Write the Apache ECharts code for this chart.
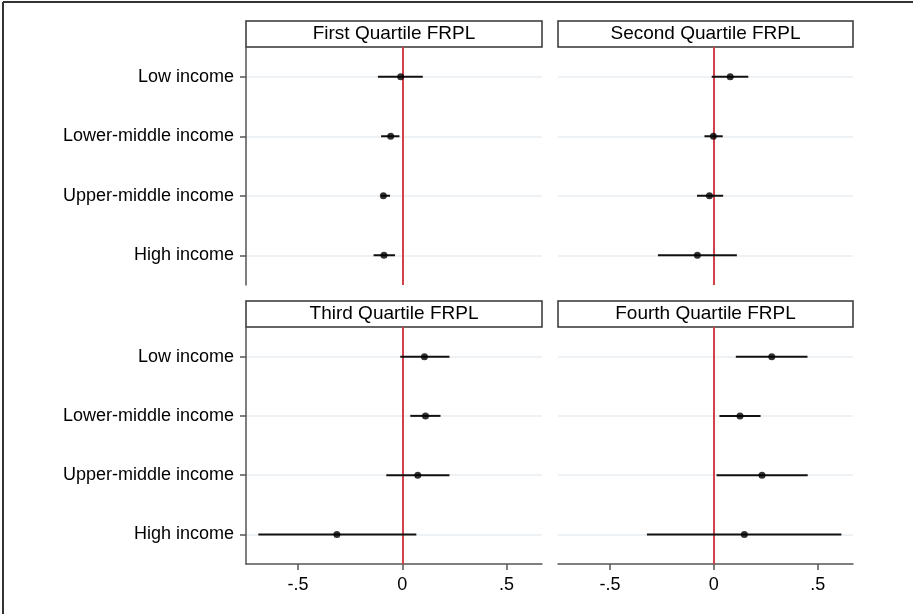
<!DOCTYPE html>
<html>
<head>
<meta charset="utf-8">
<script src="https://cdn.jsdelivr.net/npm/echarts@6/dist/echarts.min.js"></script>
<style>
  html, body { margin: 0; padding: 0; background: #fff; }
  #chart { width: 913px; height: 614px; }
</style>
</head>
<body>
<div id="chart"></div>
<script>
// data
const categories = ["Low income", "Lower-middle income", "Upper-middle income", "High income"];
const panelTitles = ["First Quartile FRPL", "Second Quartile FRPL", "Third Quartile FRPL", "Fourth Quartile FRPL"];

const q1Est = [-0.008, -0.056, -0.091, -0.088];
const q1Lo = [-0.117, -0.102, -0.102, -0.138];
const q1Hi = [0.098, -0.014, -0.059, -0.035];

const q2Est = [0.079, -0.002, -0.021, -0.079];
const q2Lo = [-0.01, -0.045, -0.081, -0.269];
const q2Hi = [0.166, 0.043, 0.045, 0.111];

const q3Est = [0.106, 0.111, 0.074, -0.314];
const q3Lo = [-0.01, 0.038, -0.077, -0.691];
const q3Hi = [0.226, 0.183, 0.226, 0.067];

const q4Est = [0.279, 0.126, 0.232, 0.147];
const q4Lo = [0.106, 0.027, 0.013, -0.322];
const q4Hi = [0.451, 0.225, 0.452, 0.614];

const xTickValues = [-0.5, 0, 0.5];
const xTickLabels = ["-.5", "0", ".5"];
const xMin = -0.75;
const xMax = 0.67;

const panels = [
  { est: q1Est, lo: q1Lo, hi: q1Hi },
  { est: q2Est, lo: q2Lo, hi: q2Hi },
  { est: q3Est, lo: q3Lo, hi: q3Hi },
  { est: q4Est, lo: q4Lo, hi: q4Hi },
];

const FONT = "'Liberation Sans', Arial, Helvetica, sans-serif";
const TEXT = "#000";
const AXIS = "#555";
const GRIDLINE = "#e8eef2";
const RED = "#d3414b";

const gridBoxes = [
  { left: 246, top: 47, width: 296, height: 238 },
  { left: 558, top: 47, width: 295, height: 238 },
  { left: 246, top: 327, width: 296, height: 237 },
  { left: 558, top: 327, width: 295, height: 237 },
];

const chart = echarts.init(document.getElementById("chart"));

const xAxes = gridBoxes.map((g, i) => {
  const bottomRow = i >= 2;
  return {
    type: "value",
    gridIndex: i,
    min: xMin,
    max: xMax,
    splitLine: { show: false },
    axisLine: { show: bottomRow, onZero: false, lineStyle: { color: AXIS, width: 1.5 } },
    axisTick: {
      show: bottomRow,
      length: 6,
      customValues: xTickValues,
      lineStyle: { color: AXIS, width: 1.5 },
    },
    axisLabel: {
      show: bottomRow,
      customValues: xTickValues,
      margin: 12,
      fontSize: 18,
      fontFamily: FONT,
      color: TEXT,
      formatter: (v) => xTickLabels[xTickValues.indexOf(v)] ?? "",
    },
  };
});

const yAxes = gridBoxes.map((g, i) => {
  const leftCol = i % 2 === 0;
  return {
    type: "category",
    gridIndex: i,
    data: categories,
    inverse: true,
    axisLine: { show: leftCol, onZero: false, lineStyle: { color: AXIS, width: 1.5 } },
    axisTick: { show: leftCol, alignWithLabel: true, length: 6, lineStyle: { color: AXIS, width: 1.5 } },
    axisLabel: { show: leftCol, margin: 12, fontSize: 18, fontFamily: FONT, color: TEXT },
    splitLine: { show: true, alignWithLabel: true, lineStyle: { color: GRIDLINE, width: 1.5 } },
  };
});

const series = [];
panels.forEach((p, i) => {
  series.push({
    type: "custom",
    xAxisIndex: i,
    yAxisIndex: i,
    z: 3,
    data: categories.map((c, k) => [p.lo[k], p.hi[k], k]),
    encode: { x: [0, 1], y: 2 },
    renderItem: (params, api) => {
      const a = api.coord([api.value(0), api.value(2)]);
      const b = api.coord([api.value(1), api.value(2)]);
      return {
        type: "line",
        shape: { x1: a[0], y1: a[1], x2: b[0], y2: b[1] },
        style: { stroke: "#111", lineWidth: 2 },
      };
    },
  });
  series.push({
    type: "scatter",
    xAxisIndex: i,
    yAxisIndex: i,
    z: 4,
    symbol: "circle",
    symbolSize: 7,
    itemStyle: { color: "#000" },
    data: categories.map((c, k) => [p.est[k], k]),
    markLine: {
      silent: true,
      symbol: "none",
      z: 2,
      label: { show: false },
      lineStyle: { color: RED, width: 2, type: "solid" },
      data: [{ xAxis: 0 }],
    },
  });
});

const graphics = [
  { type: "line", shape: { x1: 3, y1: 2, x2: 913, y2: 2 }, style: { stroke: "#333", lineWidth: 2 } },
  { type: "line", shape: { x1: 3, y1: 2, x2: 3, y2: 614 }, style: { stroke: "#333", lineWidth: 2 } },
];
gridBoxes.forEach((g, i) => {
  const y = g.top - 26;
  graphics.push({
    type: "rect",
    shape: { x: g.left, y: y, width: g.width, height: 26 },
    style: { fill: "#fff", stroke: "#333", lineWidth: 1.5 },
  });
  graphics.push({
    type: "text",
    x: g.left + g.width / 2,
    y: y + 13,
    style: {
      text: panelTitles[i],
      align: "center",
      verticalAlign: "middle",
      font: "19px " + FONT,
      fill: TEXT,
    },
  });
});

chart.setOption({
  animation: false,
  backgroundColor: "#fff",
  grid: gridBoxes,
  xAxis: xAxes,
  yAxis: yAxes,
  series: series,
  graphic: graphics,
});
</script>
</body>
</html>
